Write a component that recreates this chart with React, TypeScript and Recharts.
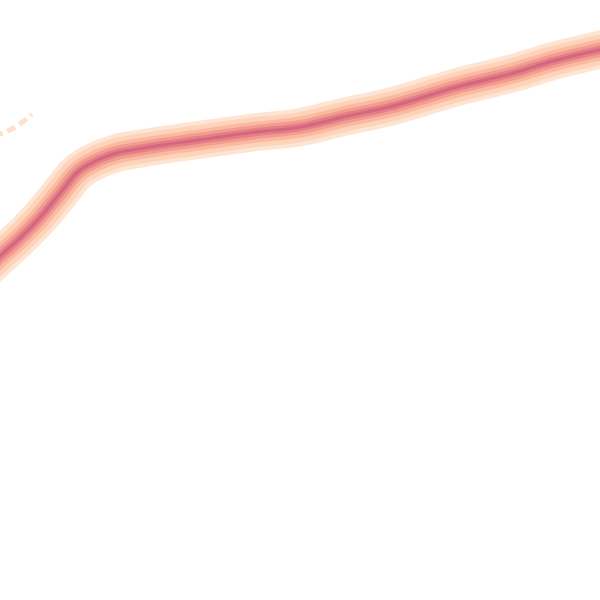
import { LineChart, Line, XAxis, YAxis } from 'recharts'

// centre of the dense band (x 0-100 across, y 0-100 up)
const bandX = [-5, 0, 3.3, 6.7, 10, 12.8, 16.2, 19.5, 23.8, 33.3, 42.8, 50, 57.2, 65, 76.2, 86.2, 91.7, 100, 105]
const bandY = [52.5, 57.3, 60.3, 63.8, 67.8, 71.2, 73.3, 74.5, 75.3, 76.7, 78, 78.8, 80.5, 82.2, 85.5, 88, 89.7, 91.7, 92.8]

// faint second trace in the top-left corner
const faintX = [-1, 0.8, 2.5, 4.2, 5.3]
const faintY = [77.4, 77.9, 78.8, 80, 81]

// density levels, outer (sparse) to inner (dense)
const levelColors = ['#fee5d3', '#fdd3ba', '#fab9a1', '#f29c8f', '#e47e87', '#d3677d']
const levelWidths = [38, 30, 21, 14, 8, 3]

const data = bandX.map((x, i) => ({ x, band: bandY[i] }))
const faint = faintX.map((x, i) => ({ x, faint: faintY[i] }))

export default function App() {
  return (
    <div style={{ position: 'fixed', left: 0, top: 0, width: 600, height: 600, background: '#fff' }}>
      <LineChart width={600} height={600} margin={{ top: 0, right: 0, bottom: 0, left: 0 }}>
        <XAxis type="number" dataKey="x" domain={[0, 100]} allowDataOverflow hide />
        <YAxis type="number" domain={[0, 100]} allowDataOverflow hide />
        <Line
          data={faint}
          dataKey="faint"
          type="linear"
          stroke="#fee0cb"
          strokeWidth={5}
          strokeDasharray="9 5"
          dot={false}
          activeDot={false}
          isAnimationActive={false}
        />
        {levelColors.map((c, i) => (
          <Line
            key={c}
            data={data}
            dataKey="band"
            type="monotone"
            stroke={c}
            strokeWidth={levelWidths[i]}
            strokeLinejoin="round"
            dot={false}
            activeDot={false}
            isAnimationActive={false}
          />
        ))}
      </LineChart>
    </div>
  )
}
